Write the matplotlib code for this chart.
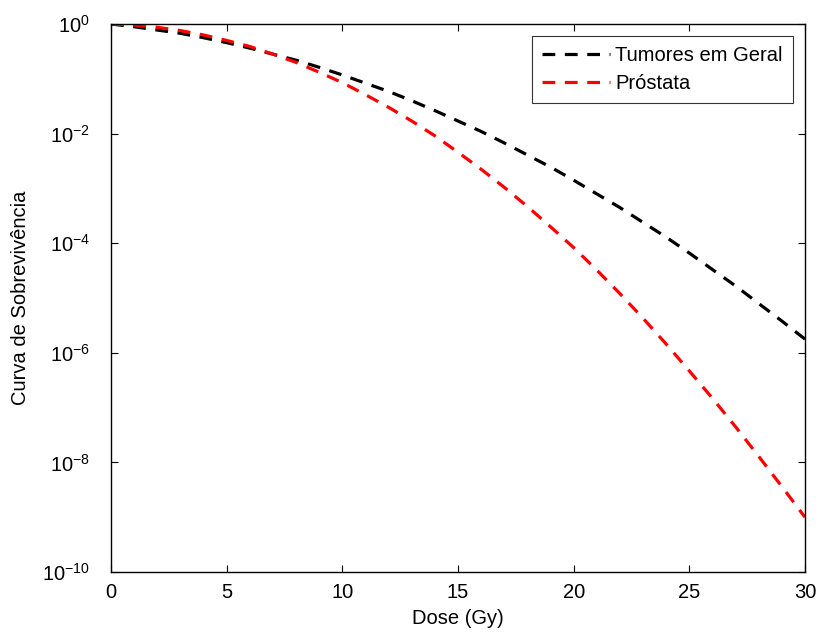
import matplotlib
matplotlib.use("Agg")
import matplotlib.pyplot as plt
import numpy as np

plt.rcParams['font.family'] = ['Liberation Sans', 'DejaVu Sans']
plt.rcParams['mathtext.fontset'] = 'custom'
plt.rcParams['mathtext.rm'] = 'Liberation Sans'

dose = list(range(0, 31))
# log10 of survival fraction
log_geral = [0.0, -0.05, -0.11, -0.17, -0.25, -0.34, -0.44, -0.55, -0.66, -0.79,
             -0.93, -1.08, -1.23, -1.40, -1.58, -1.77, -1.96, -2.17, -2.39, -2.61,
             -2.85, -3.10, -3.35, -3.62, -3.89, -4.18, -4.48, -4.78, -5.10, -5.42,
             -5.75]
log_prostata = [0.0, -0.02, -0.06, -0.12, -0.20, -0.30, -0.41, -0.55, -0.70, -0.88,
                -1.07, -1.29, -1.52, -1.77, -2.04, -2.34, -2.65, -2.98, -3.33, -3.70,
                -4.08, -4.49, -4.92, -5.37, -5.84, -6.33, -6.83, -7.35, -7.89, -8.44,
                -9.00]
labels = ['Tumores em Geral', 'Próstata']

FS = 14.5
fig = plt.figure(figsize=(8.21, 6.37), dpi=100)
ax = fig.add_axes([0.1352, 0.1020, 0.8453, 0.8603])

ax.semilogy(dose, 10 ** np.array(log_geral), color='black', lw=2.3,
            dashes=(4, 3), label=labels[0])
ax.semilogy(dose, 10 ** np.array(log_prostata), color='red', lw=2.3,
            dashes=(4, 3), label=labels[1])

ax.set_xlim(0, 30)
ax.set_ylim(1e-10, 1)
ax.set_xticks([0, 5, 10, 15, 20, 25, 30])
ax.set_yticks([1e0, 1e-2, 1e-4, 1e-6, 1e-8, 1e-10])
ax.yaxis.set_minor_locator(matplotlib.ticker.NullLocator())
ax.tick_params(axis='both', which='major', direction='in', length=5, width=0.8,
               top=True, right=True, labelsize=FS)
ax.tick_params(axis='x', pad=8)
ax.tick_params(axis='y', pad=15)
for s in ax.spines.values():
    s.set_linewidth(1.0)

ax.set_xlabel('Dose (Gy)', fontsize=FS, labelpad=5)
ax.set_ylabel('Curva de Sobrevivência', fontsize=FS, labelpad=9)

leg = ax.legend(loc='upper right', fontsize=FS, handlelength=3.4, frameon=True,
                fancybox=False, borderaxespad=0.6, borderpad=0.5,
                labelspacing=0.45, handletextpad=0.25)
leg.get_frame().set_edgecolor('black')
leg.get_frame().set_linewidth(0.8)

fig.savefig('out.png', dpi=100)
